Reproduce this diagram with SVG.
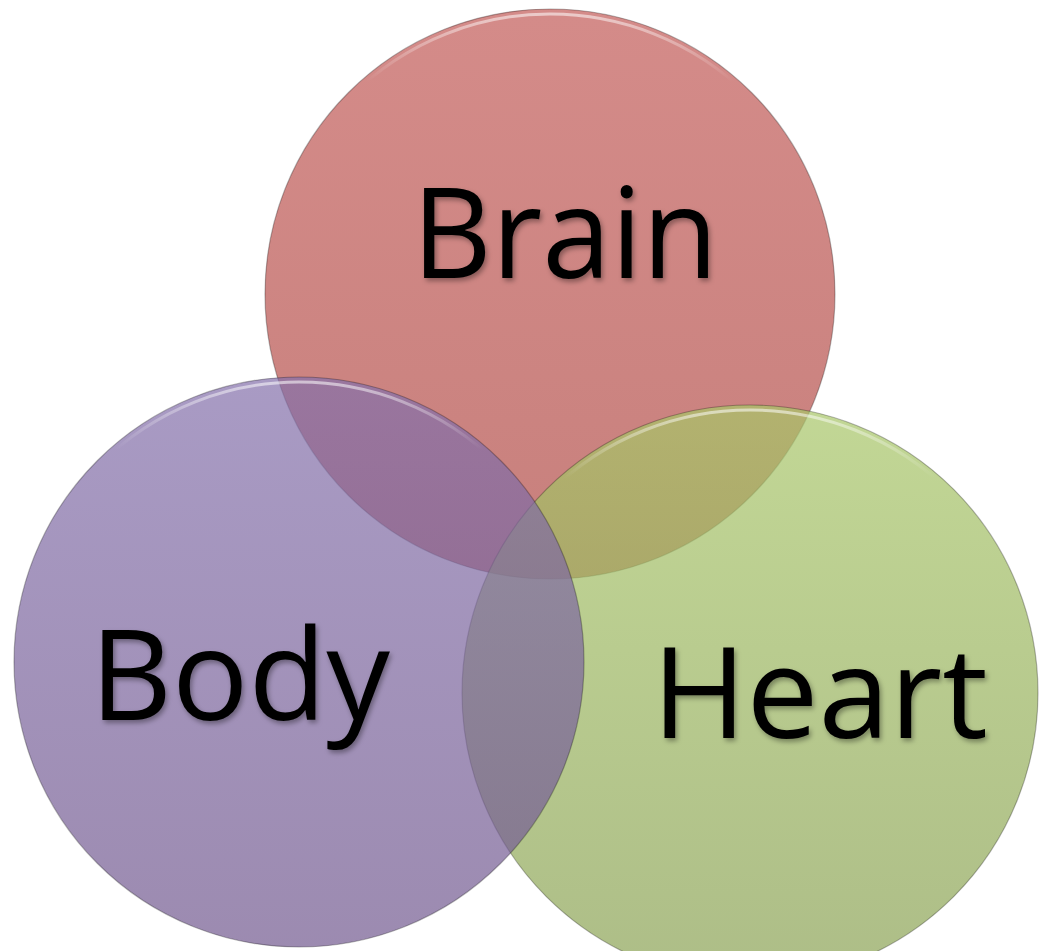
<svg xmlns="http://www.w3.org/2000/svg" width="1042" height="951" viewBox="0 0 1042 951">
  <style>
    .circle { fill-opacity: 0.7; stroke: #000; stroke-opacity: 0.28; stroke-width: 1.2; }
    .rim { fill: none; stroke-width: 3; }
    .label { font-family: "Open Sans", "Noto Sans", sans-serif; font-size: 126px; fill: #000; filter: url(#shadow); }
  </style>
  <defs>
    <linearGradient id="gBrain" x1="0" y1="0" x2="0" y2="1">
      <stop offset="0" stop-color="#c25a57"/>
      <stop offset="1" stop-color="#b04a45"/>
    </linearGradient>
    <linearGradient id="gBody" x1="0" y1="0" x2="0" y2="1">
      <stop offset="0" stop-color="#8470ab"/>
      <stop offset="1" stop-color="#72598f"/>
    </linearGradient>
    <linearGradient id="gHeart" x1="0" y1="0" x2="0" y2="1">
      <stop offset="0" stop-color="#a8c668"/>
      <stop offset="1" stop-color="#8aa154"/>
    </linearGradient>
    <linearGradient id="gRim" x1="0" y1="0" x2="0" y2="1">
      <stop offset="0" stop-color="#fff" stop-opacity="0.55"/>
      <stop offset="0.12" stop-color="#fff" stop-opacity="0"/>
      <stop offset="1" stop-color="#fff" stop-opacity="0"/>
    </linearGradient>
    <filter id="shadow" x="-10%" y="-10%" width="120%" height="130%">
      <feDropShadow dx="2" dy="3" stdDeviation="2.5" flood-color="#000" flood-opacity="0.35"/>
    </filter>
  </defs>
  <rect width="1042" height="951" fill="#fff"/>
  <g id="brain">
    <circle class="circle" cx="550" cy="294" r="285" fill="url(#gBrain)"/>
    <circle class="rim" cx="550" cy="296" r="282" stroke="url(#gRim)"/>
  </g>
  <g id="heart">
    <circle class="circle" cx="750" cy="693" r="288" fill="url(#gHeart)"/>
    <circle class="rim" cx="750" cy="695" r="285" stroke="url(#gRim)"/>
  </g>
  <g id="body">
    <circle class="circle" cx="299" cy="662" r="285" fill="url(#gBody)"/>
    <circle class="rim" cx="299" cy="664" r="282" stroke="url(#gRim)"/>
  </g>
  <g id="labels">
    <text class="label" x="412" y="278" textLength="306" lengthAdjust="spacingAndGlyphs">Brain</text>
    <text class="label" x="90" y="720" textLength="300" lengthAdjust="spacingAndGlyphs">Body</text>
    <text class="label" x="652" y="738" textLength="336" lengthAdjust="spacingAndGlyphs">Heart</text>
  </g>
  <g id="connectors"/>
</svg>
